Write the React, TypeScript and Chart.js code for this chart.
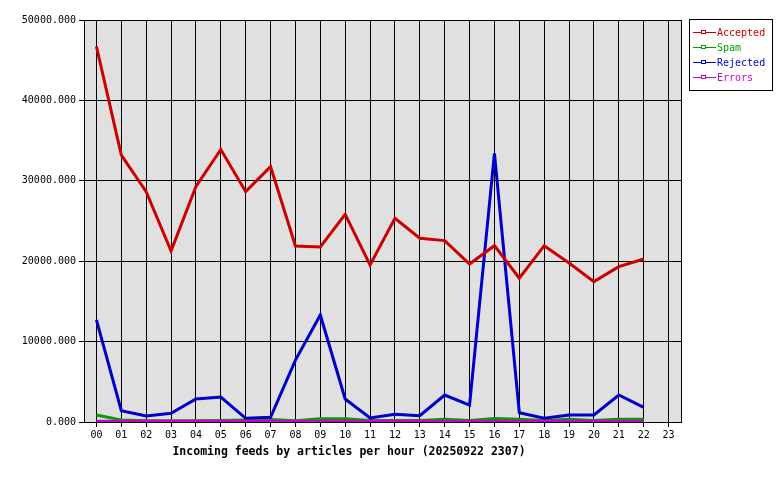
import React, { useEffect, useRef } from "react";
import { Chart, registerables } from "chart.js";

Chart.register(...registerables);

const hours = ["00","01","02","03","04","05","06","07","08","09","10","11","12","13","14","15","16","17","18","19","20","21","22","23"];
const accepted = [46700, 33200, 28650, 21270, 29300, 33900, 28650, 31760, 21890, 21770, 25840, 19530, 25340, 22850, 22560, 19650, 21930, 17880, 21930, 19780, 17460, 19320, 20280, null];
const spam = [870, 250, 150, 150, 150, 200, 250, 300, 150, 400, 400, 200, 200, 200, 350, 200, 450, 350, 200, 350, 200, 350, 350, null];
const rejected = [12700, 1400, 750, 1080, 2860, 3110, 460, 580, 7700, 13310, 2860, 500, 960, 780, 3360, 2110, 33420, 1160, 460, 870, 870, 3360, 1830, null];
const errors = [80, 80, 80, 80, 80, 80, 80, 80, 80, 80, 80, 80, 80, 80, 80, 80, 80, 80, 80, 80, 80, 80, 80, null];
const yTicks = [0, 10000, 20000, 30000, 40000, 50000];
const seriesNames = ["Accepted", "Spam", "Rejected", "Errors"];
const seriesColors = ["#cc0000", "#00a000", "#0000cc", "#cc00cc"];
const chartTitle = "Incoming feeds by articles per hour (20250922 2307)";

const MONO = "'DejaVu Sans Mono', monospace";

const decor = {
  id: "decor",
  beforeDraw(chart: any) {
    const { ctx, chartArea: a } = chart;
    ctx.save();
    ctx.fillStyle = "#ffffff";
    ctx.fillRect(0, 0, chart.width, chart.height);
    ctx.fillStyle = "#e0e0e0";
    ctx.fillRect(a.left, a.top, a.right - a.left, a.bottom - a.top);
    ctx.restore();
  },
  afterDraw(chart: any) {
    const { ctx, chartArea: a } = chart;
    ctx.save();
    ctx.strokeStyle = "#000";
    ctx.lineWidth = 1;
    ctx.strokeRect(Math.round(a.left) + 0.5, Math.round(a.top) + 0.5, Math.round(a.right - a.left), Math.round(a.bottom - a.top));
    // title
    ctx.fillStyle = "#000";
    ctx.font = "bold 11.5px " + MONO;
    ctx.textAlign = "center";
    ctx.textBaseline = "middle";
    ctx.fillText(chartTitle, 349, 452);
    // legend
    ctx.fillStyle = "#fff";
    ctx.fillRect(689, 19, 83, 71);
    ctx.strokeRect(689.5, 19.5, 83, 71);
    ctx.font = "10px " + MONO;
    ctx.textAlign = "left";
    seriesNames.forEach((n, i) => {
      const y = 32 + i * 15;
      ctx.strokeStyle = seriesColors[i];
      ctx.beginPath();
      ctx.moveTo(693, y + 0.5);
      ctx.lineTo(716, y + 0.5);
      ctx.stroke();
      ctx.fillStyle = "#fff";
      ctx.fillRect(702, y - 1, 3, 3);
      ctx.strokeRect(701.5, y - 1.5, 4, 3);
      ctx.fillStyle = seriesColors[i];
      ctx.fillText(n, 717, y + 1);
    });
    ctx.restore();
  },
};

export default function App() {
  const ref = useRef<HTMLCanvasElement | null>(null);
  useEffect(() => {
    const dataArrays = [accepted, spam, rejected, errors];
    const orders = [0, 3, 2, 1];
    const chart = new Chart(ref.current!, {
      type: "line",
      data: {
        labels: hours,
        datasets: seriesNames.map((n, i) => ({
          label: n,
          data: dataArrays[i],
          borderColor: seriesColors[i],
          backgroundColor: seriesColors[i],
          borderWidth: 3,
          pointRadius: 0,
          tension: 0,
          order: orders[i],
          borderJoinStyle: "miter" as const,
        })),
      },
      options: {
        animation: false,
        responsive: false,
        devicePixelRatio: 1,
        layout: { padding: { top: 20, right: 99, left: 0, bottom: 0 } },
        plugins: { legend: { display: false }, tooltip: { enabled: false } },
        scales: {
          x: {
            offset: true,
            grid: { color: "#000", offset: false, tickLength: 5, drawTicks: true },
            border: { color: "#000" },
            ticks: { color: "#000", font: { family: MONO, size: 10 }, padding: 2, maxRotation: 0, autoSkip: false },
            afterFit: (s: any) => { s.height = 58; },
          },
          y: {
            min: 0,
            max: 50000,
            afterBuildTicks: (s: any) => { s.ticks = yTicks.map((v) => ({ value: v })); },
            grid: { color: "#000", tickLength: 5 },
            border: { color: "#000" },
            ticks: { color: "#000", font: { family: MONO, size: 10 }, padding: 3, callback: (v: any) => Number(v).toFixed(3) },
            afterFit: (s: any) => { s.width = 84; },
          },
        },
      },
      plugins: [decor],
    });
    return () => chart.destroy();
  }, []);
  return (
    <div style={{ position: "absolute", left: 0, top: 0, width: 780, height: 480 }}>
      <canvas ref={ref} width={780} height={480} style={{ display: "block" }} />
    </div>
  );
}
